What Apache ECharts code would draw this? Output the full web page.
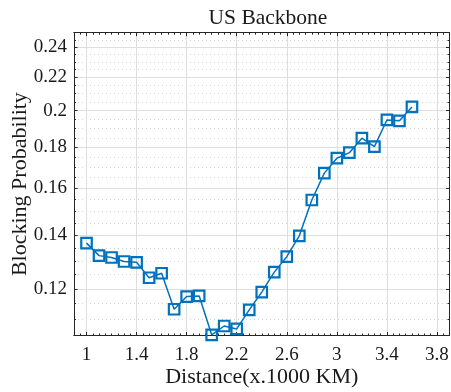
<!DOCTYPE html>
<html><head><meta charset="utf-8">
<script src="https://cdn.jsdelivr.net/npm/echarts@6/dist/echarts.min.js"></script>
<style>html,body{margin:0;padding:0;background:#fff}#c{width:451px;height:392px}</style>
</head><body><div id="c"></div>
<script>
// ---- data ----
const titleText = 'US Backbone';
const xName = 'Distance(x.1000 KM)';
const yName = 'Blocking Probability';
const distances = [1.0,1.1,1.2,1.3,1.4,1.5,1.6,1.7,1.8,1.9,2.0,2.1,2.2,2.3,2.4,2.5,2.6,2.7,2.8,2.9,3.0,3.1,3.2,3.3,3.4,3.5,3.6];
const blocking = [0.1368,0.1320,0.1313,0.1298,0.1295,0.1239,0.1255,0.1132,0.1174,0.1176,0.1052,0.1079,0.1070,0.1130,0.1189,0.1259,0.1316,0.1397,0.1548,0.1672,0.1745,0.1773,0.1848,0.1804,0.1947,0.1942,0.2021];
const xMajorTicks = [1,1.4,1.8,2.2,2.6,3,3.4,3.8];
const xMinorTicks = [0.9,0.95,1.05,1.1,1.15,1.2,1.25,1.3,1.35,1.45,1.5,1.55,1.6,1.65,1.7,1.75,1.85,1.9,1.95,2.0,2.05,2.1,2.15,2.25,2.3,2.35,2.4,2.45,2.5,2.55,2.65,2.7,2.75,2.8,2.85,2.9,2.95,3.05,3.1,3.15,3.2,3.25,3.3,3.35,3.45,3.5,3.55,3.6,3.65,3.7,3.75,3.85,3.9];
const yMajorTicks = [0.12,0.14,0.16,0.18,0.2,0.22,0.24];
const yMinorTicks = [0.105,0.11,0.115,0.125,0.13,0.135,0.145,0.15,0.155,0.165,0.17,0.175,0.185,0.19,0.195,0.205,0.21,0.215,0.225,0.23,0.235,0.245,0.25];
const xRange = [0.9, 3.9];
const yRange = [0.105, 0.25];

// ---- chart ----
const FONT = 'Liberation Serif';
const AX = '#262626';
const BLUE = '#0072BD';
const ln = Math.log;
const fmtY = v => String(+Math.exp(v).toFixed(3));
const fmtX = v => String(+v.toFixed(2));

function xAxisDef(pos, major, first) {
  return {
    type: 'value', position: pos, min: xRange[0], max: xRange[1],
    axisLine: {show: true, onZero: false, lineStyle: {color: AX, width: 1}},
    axisTick: {show: true, inside: true, length: major ? 3.5 : 2, lineStyle: {color: AX, width: 1},
      customValues: major ? xMajorTicks : xMinorTicks},
    axisLabel: first ? {show: true, customValues: xMajorTicks, formatter: fmtX, margin: 10,
      fontFamily: FONT, fontSize: 19, color: '#1a1a1a'} : {show: false},
    splitLine: (first) ? {show: true, lineStyle: {color: '#dedede', width: 1}} : {show: false},
    name: first ? xName : '', nameLocation: 'middle', nameGap: 31, nameMoveOverlap: false,
    nameTextStyle: {fontFamily: FONT, fontSize: 22, color: '#1a1a1a'}
  };
}
function yAxisDef(pos, major, first, minorGrid) {
  return {
    type: 'value', position: pos, min: ln(yRange[0]), max: ln(yRange[1]),
    axisLine: {show: true, onZero: false, lineStyle: {color: AX, width: 1}},
    axisTick: {show: true, inside: true, length: major ? 3.5 : 2, lineStyle: {color: AX, width: 1},
      customValues: (major ? yMajorTicks : yMinorTicks).map(ln)},
    axisLabel: first ? {show: true, customValues: yMajorTicks.map(ln), formatter: fmtY, margin: 7,
      fontFamily: FONT, fontSize: 19, color: '#1a1a1a'} : {show: false},
    splitLine: first ? {show: true, lineStyle: {color: '#dedede', width: 1}}
      : (minorGrid ? {show: true, lineStyle: {color: '#d4d4d4', width: 1, type: [1, 3]}} : {show: false}),
    name: first ? yName : '', nameLocation: 'middle', nameGap: 43, nameMoveOverlap: false,
    nameTextStyle: {fontFamily: FONT, fontSize: 22, color: '#1a1a1a'}
  };
}

const chart = echarts.init(document.getElementById('c'), null, {renderer: 'canvas'});
chart.setOption({
  animation: false,
  backgroundColor: '#fff',
  title: {text: titleText, left: 263, textAlign: 'center', top: 2.5,
    textStyle: {fontFamily: FONT, fontSize: 21.5, fontWeight: 'normal', color: '#1a1a1a'}},
  grid: {left: 74, right: 1.5, top: 32.7, bottom: 56.5, containLabel: false, outerBoundsMode: 'none'},
  xAxis: [
    xAxisDef('bottom', true, true),
    xAxisDef('bottom', false, false),
    xAxisDef('top', true, false),
    xAxisDef('top', false, false)
  ],
  yAxis: [
    yAxisDef('left', true, true, false),
    yAxisDef('left', false, false, true),
    yAxisDef('right', true, false, false),
    yAxisDef('right', false, false, false)
  ],
  series: [{
    type: 'line', xAxisIndex: 0, yAxisIndex: 0,
    data: distances.map((d, i) => [d, ln(blocking[i])]),
    symbol: 'rect', symbolSize: 10.5, showAllSymbol: true, clip: false,
    lineStyle: {color: BLUE, width: 1.5},
    itemStyle: {color: 'rgba(0,0,0,0)', borderColor: BLUE, borderWidth: 2.2},
    z: 5
  }]
});
</script>
</body></html>
